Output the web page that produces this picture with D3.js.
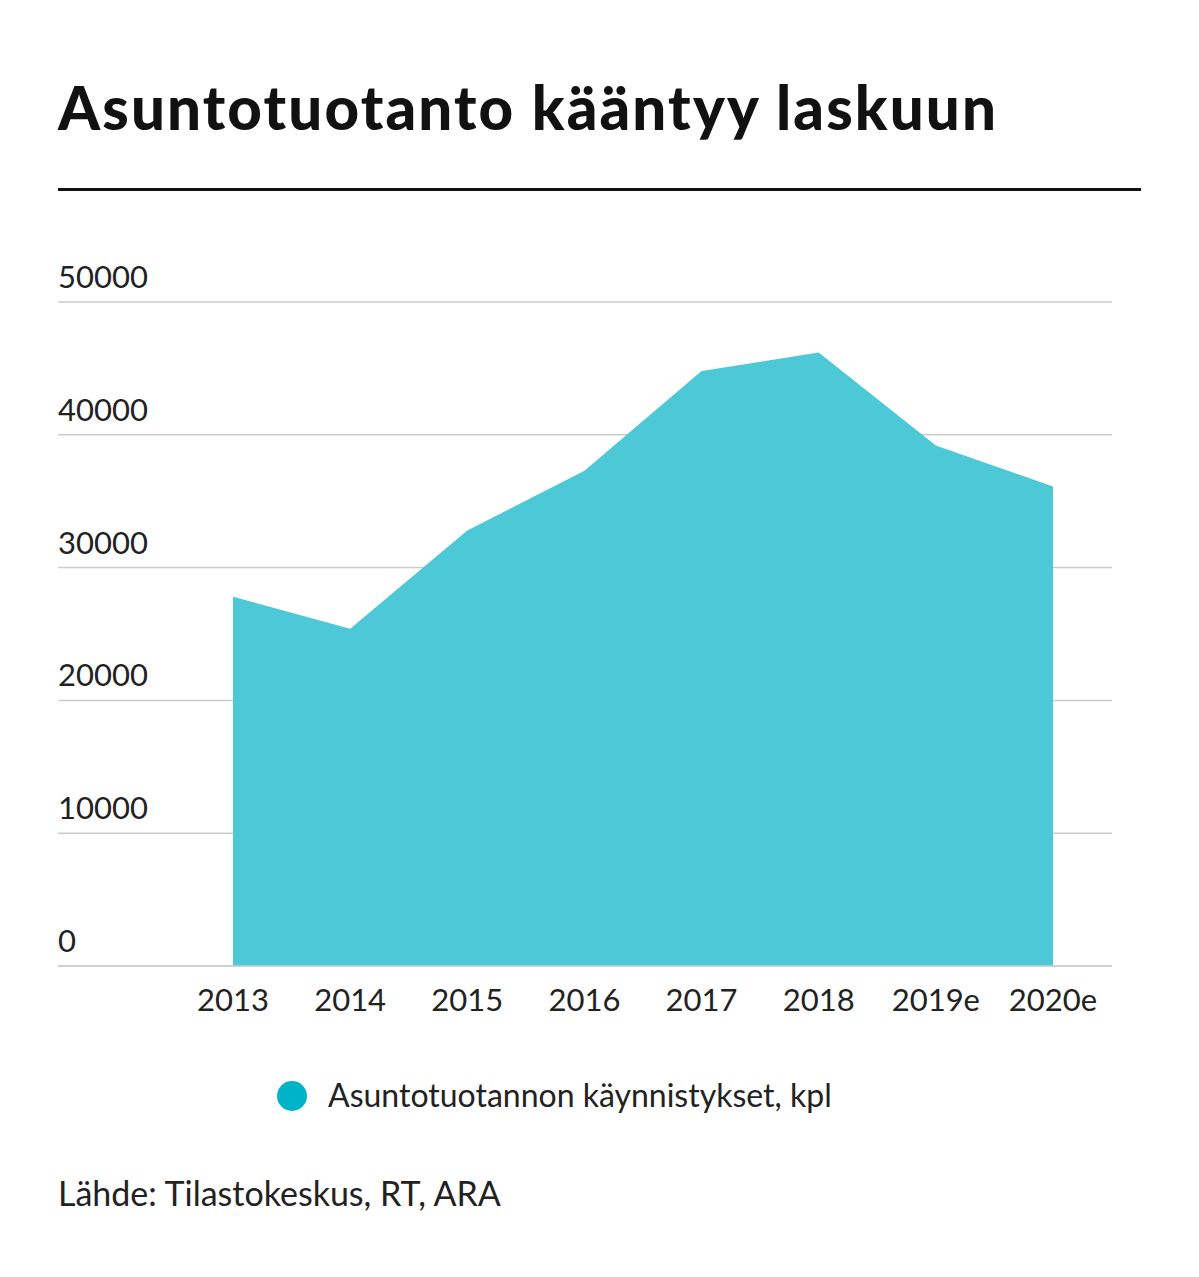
<!DOCTYPE html>
<html><head><meta charset="utf-8">
<script src="https://cdn.jsdelivr.net/npm/d3@7"></script>
<style>body{margin:0;background:#fff}</style></head>
<body><svg id="c" width="1199" height="1277"></svg>
<script>
const categories=["2013","2014","2015","2016","2017","2018","2019e","2020e"];
const values=[27800,25400,32800,37300,44800,46200,39200,36100];
const yTicks=[0,10000,20000,30000,40000,50000];
const svg=d3.select("#c");
const F="Lato, 'Open Sans', sans-serif";
svg.append("text").attr("x",58).attr("y",130).attr("font-family",F).attr("font-weight",900)
 .attr("font-size",60).attr("fill","#111").attr("textLength",938).text("Asuntotuotanto kääntyy laskuun");
svg.append("rect").attr("x",58).attr("y",188).attr("width",1083).attr("height",3).attr("fill","#111");
const x=d3.scalePoint().domain(categories).range([233,1053]);
const y=d3.scaleLinear().domain([0,50000]).range([966,302]);
const g=svg.append("g");
yTicks.forEach(t=>{
 g.append("line").attr("x1",58).attr("x2",1112).attr("y1",y(t)).attr("y2",y(t)).attr("stroke","#ccc").attr("stroke-width",1.5);
});
const area=d3.area().x((d,i)=>x(categories[i])).y0(y(0)).y1(d=>y(d));
g.append("path").datum(values).attr("d",area).attr("fill","#4dc8d6");
g.append("line").attr("x1",58).attr("x2",1112).attr("y1",y(0)).attr("y2",y(0)).attr("stroke","#ccc").attr("stroke-width",1.5);
yTicks.forEach(t=>{
 g.append("text").attr("x",58).attr("y",y(t)-14).attr("font-family",F).attr("font-size",31).attr("fill","#222").text(t);
});
categories.forEach(c=>{
 g.append("text").attr("x",x(c)).attr("y",1011).attr("text-anchor","middle").attr("font-family",F).attr("font-size",31).attr("fill","#222").text(c);
});
svg.append("circle").attr("cx",292).attr("cy",1096).attr("r",15).attr("fill","#00b4c8");
svg.append("text").attr("x",328).attr("y",1107).attr("font-family",F).attr("font-size",32).attr("fill","#222").text("Asuntotuotannon käynnistykset, kpl");
svg.append("text").attr("x",58).attr("y",1206).attr("font-family",F).attr("font-size",34).attr("fill","#222").text("Lähde: Tilastokeskus, RT, ARA");
</script></body></html>
